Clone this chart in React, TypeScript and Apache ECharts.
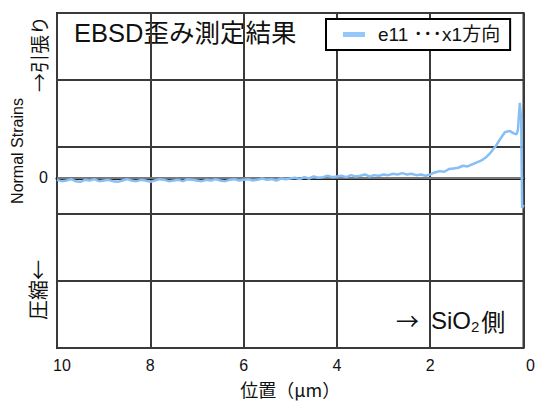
import React, { useEffect, useRef } from "react";
import * as echarts from "echarts";

// position (μm)
const positions: number[] = [
  10.0, 9.9, 9.8, 9.7, 9.6, 9.5, 9.4, 9.3, 9.2, 9.1,
  9.0, 8.9, 8.8, 8.7, 8.6, 8.5, 8.4, 8.3, 8.2, 8.1,
  8.0, 7.9, 7.8, 7.7, 7.6, 7.5, 7.4, 7.3, 7.2, 7.1,
  7.0, 6.9, 6.8, 6.7, 6.6, 6.5, 6.4, 6.3, 6.2, 6.1,
  6.0, 5.9, 5.8, 5.7, 5.6, 5.5, 5.4, 5.3, 5.2, 5.1,
  5.0, 4.9, 4.8, 4.7, 4.6, 4.5, 4.4, 4.3, 4.2, 4.1,
  4.0, 3.9, 3.8, 3.7, 3.6, 3.5, 3.4, 3.3, 3.2, 3.1,
  3.0, 2.9, 2.8, 2.7, 2.6, 2.5, 2.4, 2.3, 2.2, 2.1,
  2.0, 1.9, 1.8, 1.7, 1.6, 1.5, 1.4, 1.3, 1.2, 1.1,
  1.0, 0.9, 0.8, 0.7, 0.6, 0.5, 0.4, 0.3, 0.2, 0.15,
  0.12, 0.08, 0.05, 0.03, 0.0,
];

// e11 normal strain (arbitrary units, 0 = unstrained)
const e11: number[] = [
  -0.03, -0.05, -0.04, -0.02, -0.05, -0.06, -0.03, -0.04, -0.02, -0.05,
  -0.04, -0.03, -0.05, -0.06, -0.04, -0.02, -0.04, -0.05, -0.03, -0.04,
  -0.06, -0.04, -0.02, -0.03, -0.05, -0.04, -0.03, -0.05, -0.02, -0.03,
  -0.04, -0.05, -0.03, -0.04, -0.02, -0.04, -0.05, -0.03, -0.02, -0.04,
  -0.03, -0.02, -0.04, -0.03, -0.01, -0.03, -0.02, -0.04, -0.01, -0.02,
  -0.01, 0.0, -0.02, 0.01, -0.01, 0.02, 0.0, 0.01, 0.03, 0.01,
  0.02, 0.03, 0.01, 0.04, 0.02, 0.03, 0.05, 0.02, 0.04, 0.03,
  0.05, 0.04, 0.06, 0.05, 0.07, 0.05, 0.06, 0.04, 0.05, 0.03,
  0.05, 0.08, 0.1, 0.09, 0.13, 0.14, 0.15, 0.18, 0.17, 0.2,
  0.23, 0.26, 0.31, 0.38, 0.47, 0.58, 0.68, 0.7, 0.66, 0.65,
  0.72, 1.12, 0.85, -0.45, -0.4,
];

const xTicks: number[] = [10, 8, 6, 4, 2, 0];
const zeroLabel: number[] = [0];

const seriesName = "e11 ･･･x1方向";
const title = "EBSD歪み測定結果";
const xName = "位置（μm）";
const yName = "Normal Strains";
const yTop = "→引張り";
const yBottom = "圧縮←";

const LAT = "'Liberation Sans', 'Noto Sans CJK JP', sans-serif";
const CJK = "'Noto Sans CJK JP', 'Liberation Sans', sans-serif";

export default function App() {
  const ref = useRef<HTMLDivElement>(null);
  useEffect(() => {
    if (!ref.current) return;
    const chart = echarts.init(ref.current, undefined, { renderer: "svg" });
    const data = positions.map((p, i) => [p, e11[i]]);
    chart.setOption({
      animation: false,
      backgroundColor: "#fff",
      grid: {
        left: 57,
        right: 11,
        top: 13,
        bottom: 53,
        show: true,
        borderColor: "#222",
        borderWidth: 2,
      },
      legend: {
        data: [seriesName],
        left: 326,
        top: 19,
        padding: [6, 10, 6, 17],
        borderColor: "#000",
        borderWidth: 2,
        backgroundColor: "#fff",
        itemWidth: 22,
        itemHeight: 5,
        itemGap: 10,
        icon: "rect",
        textStyle: { fontSize: 19, fontFamily: LAT, color: "#111", padding: [0, 0, 0, 8] },
      },
      xAxis: {
        type: "value",
        min: 0,
        max: 10,
        interval: 2,
        inverse: true,
        name: xName,
        nameLocation: "middle",
        nameGap: 32,
        nameTextStyle: { fontSize: 18, fontFamily: CJK, color: "#111" },
        axisLine: { show: true, lineStyle: { color: "#222", width: 3 } },
        axisTick: { show: false },
        splitLine: { show: true, lineStyle: { color: "#3a3a3a", width: 2 } },
        axisLabel: {
          fontSize: 16,
          fontFamily: LAT,
          color: "#111",
          margin: 9,
          formatter: (v: number) => (v === 10 ? "{ten|10}" : v === 0 ? "{zero|0}" : String(v)),
          rich: {
            ten: { fontSize: 16, fontFamily: LAT, color: "#111", padding: [0, 0, 0, 10] },
            zero: { fontSize: 16, fontFamily: LAT, color: "#111", padding: [0, 0, 0, 14] },
          },
        },
        customValues: xTicks,
      },
      yAxis: {
        type: "value",
        min: -2.54,
        max: 2.46,
        interval: 1,
        axisLine: { show: false },
        axisTick: { show: false },
        splitLine: { show: true, lineStyle: { color: "#3a3a3a", width: 2 } },
        axisLabel: {
          customValues: zeroLabel,
          formatter: () => "0",
          fontSize: 16,
          fontFamily: LAT,
          color: "#111",
          margin: 9,
        },
      },
      series: [
        {
          name: seriesName,
          type: "line",
          data,
          showSymbol: false,
          symbol: "none",
          color: "#94c8f8",
          lineStyle: { color: "#86bff6", width: 2.5 },
          z: 3,
          markLine: {
            silent: true,
            symbol: ["none", "none"],
            label: { show: false },
            lineStyle: { color: "#7a7a7a", width: 2, type: "solid" },
            data: [{ yAxis: 0 }],
            z: 2,
          },
        },
      ],
      graphic: [
        {
          type: "text",
          left: 74,
          top: 20,
          style: { text: title, fontSize: 25.5, fontFamily: LAT, fill: "#111" },
        },
        {
          type: "text",
          x: 396,
          y: 320,
          style: {
            text: "{a|→}{n|SiO}{s|2}{c|側}",
            textVerticalAlign: "middle",
            rich: {
              a: { fontSize: 23, fontFamily: CJK, fill: "#111", lineHeight: 30, padding: [0, 12, 0, 0] },
              n: { fontSize: 24, fontFamily: LAT, fill: "#111", lineHeight: 30 },
              s: { fontSize: 15, fontFamily: LAT, fill: "#111", lineHeight: 30, padding: [12, 2, 0, 0] },
              c: { fontSize: 24, fontFamily: CJK, fill: "#111", lineHeight: 30 },
            },
          },
        },
        {
          type: "text",
          x: 17,
          y: 151,
          rotation: Math.PI / 2,
          style: { text: yName, fontSize: 16, fontFamily: LAT, fill: "#111", align: "center", verticalAlign: "middle" },
        },
        {
          type: "text",
          x: 38,
          y: 54,
          rotation: Math.PI / 2,
          style: { text: yTop, fontSize: 19, fontFamily: CJK, fill: "#111", align: "center", verticalAlign: "middle" },
        },
        {
          type: "text",
          x: 37,
          y: 290,
          rotation: Math.PI / 2,
          style: { text: yBottom, fontSize: 20, fontFamily: CJK, fill: "#111", align: "center", verticalAlign: "middle" },
        },
      ],
    });
    return () => chart.dispose();
  }, []);
  return <div ref={ref} style={{ width: 538, height: 403, position: "absolute", left: 0, top: 0 }} />;
}
